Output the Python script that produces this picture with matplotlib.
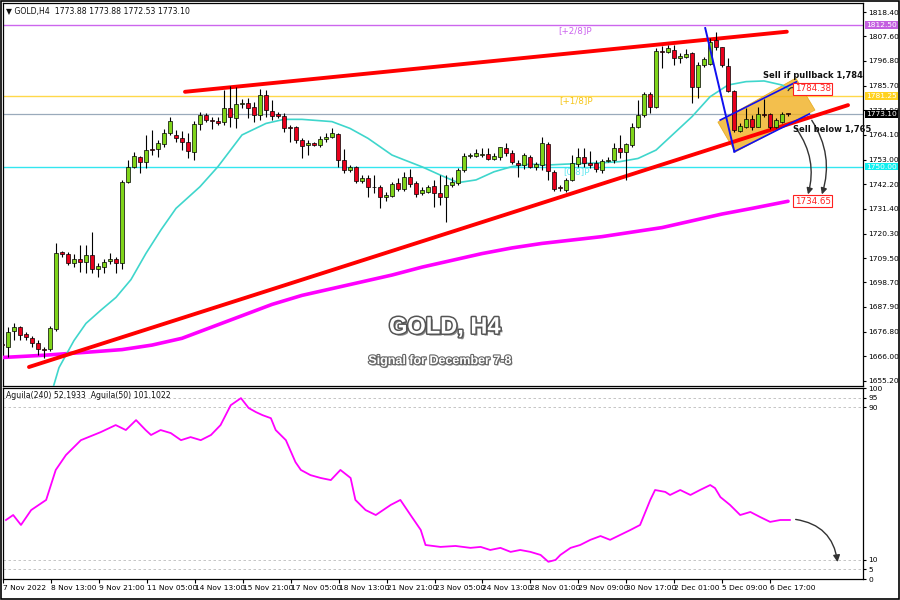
import matplotlib
matplotlib.use("Agg")
import matplotlib.pyplot as plt
import matplotlib.patheffects as pe
from matplotlib.patches import FancyArrowPatch, Polygon, Rectangle
from matplotlib.transforms import blended_transform_factory

# ---------------- data ----------------
opens = [1671.5, 1670.0, 1677.4, 1678.8, 1675.9, 1674.0, 1672.1, 1669.4, 1669.1, 1678.0,
         1712.2, 1711.2, 1707.2, 1709.1, 1707.9, 1710.7, 1704.5, 1705.4, 1708.1, 1708.9,
         1707.5, 1743.3, 1750.0, 1754.1, 1752.2, 1757.6, 1757.6, 1760.0, 1765.0, 1764.0,
         1762.5, 1761.0, 1756.6, 1768.7, 1772.8, 1770.6, 1770.2, 1769.6, 1776.1, 1771.3,
         1777.5, 1778.0, 1776.5, 1772.8, 1781.7, 1774.7, 1773.2, 1772.6, 1767.6, 1767.4,
         1761.8, 1759.4, 1760.3, 1759.5, 1762.0, 1763.2, 1764.4, 1752.9, 1748.5, 1749.7,
         1743.8, 1744.8, 1741.1, 1740.8, 1736.7, 1737.0, 1742.6, 1739.9, 1745.2, 1742.6,
         1738.1, 1738.6, 1741.4, 1738.4, 1736.7, 1741.9, 1742.6, 1748.5, 1754.7, 1754.7,
         1755.3, 1755.4, 1753.5, 1754.4, 1758.1, 1756.2, 1751.7, 1750.7, 1754.4, 1750.0,
         1750.7, 1760.0, 1747.7, 1740.8, 1739.6, 1744.1, 1751.1, 1754.4, 1751.7, 1751.4,
         1748.5, 1752.3, 1752.9, 1758.1, 1756.6, 1759.5, 1767.4, 1772.8, 1782.1, 1776.2,
         1801.3, 1800.8, 1801.6, 1797.9, 1798.6, 1800.1, 1785.4, 1795.0, 1795.4, 1806.0,
         1802.8, 1794.5, 1783.6, 1765.9, 1767.4, 1770.9, 1767.7, 1773.3, 1773.3, 1767.7,
         1769.9, 1773.88]
highs = [1673.5, 1679.1, 1680.6, 1679.4, 1676.9, 1675.0, 1673.2, 1670.3, 1679.4, 1716.3,
         1712.8, 1712.3, 1711.3, 1715.3, 1715.3, 1721.2, 1707.2, 1708.9, 1711.6, 1710.1,
         1744.0, 1752.9, 1756.6, 1754.7, 1764.0, 1766.2, 1761.8, 1766.5, 1772.1, 1766.2,
         1765.9, 1765.0, 1770.2, 1774.3, 1773.8, 1772.1, 1772.1, 1783.9, 1785.6, 1785.4,
         1779.7, 1780.5, 1778.7, 1784.2, 1783.9, 1779.5, 1774.3, 1773.8, 1768.4, 1767.9,
         1762.5, 1761.8, 1761.0, 1763.5, 1765.0, 1766.9, 1765.0, 1757.6, 1750.7, 1750.3,
         1746.3, 1746.3, 1746.3, 1741.8, 1738.9, 1743.3, 1744.8, 1747.7, 1748.8, 1743.5,
         1741.1, 1741.9, 1744.1, 1746.3, 1746.3, 1745.5, 1749.2, 1755.9, 1756.2, 1757.6,
         1758.1, 1758.1, 1755.9, 1758.8, 1760.3, 1757.3, 1752.9, 1755.9, 1755.1, 1752.2,
         1763.2, 1761.0, 1748.5, 1741.9, 1744.8, 1755.1, 1758.1, 1758.1, 1757.0, 1752.9,
         1753.2, 1754.4, 1760.6, 1764.0, 1760.6, 1769.4, 1779.5, 1783.1, 1783.1, 1802.3,
         1803.4, 1803.8, 1803.8, 1800.1, 1801.9, 1800.8, 1796.4, 1798.3, 1806.7, 1809.7,
         1803.1, 1797.9, 1783.9, 1769.1, 1775.8, 1772.8, 1776.5, 1779.9, 1773.9, 1771.3,
         1774.3, 1773.88]
lows = [1668.5, 1665.9, 1673.2, 1673.2, 1673.2, 1670.3, 1666.6, 1665.1, 1668.5, 1677.4,
        1710.1, 1706.4, 1705.7, 1703.2, 1702.7, 1702.7, 1701.3, 1702.7, 1706.9, 1703.0,
        1704.5, 1742.9, 1749.2, 1747.0, 1749.2, 1755.1, 1754.4, 1758.5, 1764.0, 1761.0,
        1757.3, 1753.6, 1752.9, 1766.2, 1769.9, 1766.5, 1768.4, 1768.4, 1767.6, 1766.9,
        1775.8, 1771.3, 1769.9, 1770.6, 1772.1, 1770.6, 1771.3, 1765.4, 1761.0, 1760.3,
        1753.6, 1755.1, 1759.1, 1758.5, 1761.0, 1762.5, 1750.0, 1747.0, 1747.7, 1742.9,
        1742.9, 1736.4, 1738.1, 1731.5, 1734.9, 1736.7, 1739.3, 1739.3, 1741.1, 1736.5,
        1737.4, 1738.1, 1732.3, 1733.0, 1725.6, 1741.1, 1741.9, 1747.7, 1753.6, 1754.1,
        1754.1, 1752.9, 1752.9, 1752.9, 1754.7, 1751.1, 1745.2, 1748.8, 1749.2, 1748.5,
        1748.5, 1744.1, 1739.3, 1739.3, 1738.9, 1743.8, 1750.0, 1750.0, 1749.2, 1747.7,
        1747.0, 1752.0, 1751.4, 1753.6, 1744.1, 1758.8, 1766.9, 1772.1, 1773.6, 1775.8,
        1793.5, 1800.1, 1795.0, 1795.7, 1797.9, 1778.0, 1780.2, 1794.2, 1795.0, 1801.6,
        1794.2, 1783.1, 1765.4, 1765.4, 1766.9, 1766.2, 1767.4, 1772.1, 1766.5, 1766.9,
        1769.1, 1772.53]
closes = [1671.0, 1676.9, 1679.1, 1675.5, 1674.4, 1672.1, 1669.1, 1668.8, 1678.4, 1711.9,
          1711.3, 1707.5, 1708.9, 1707.8, 1710.7, 1704.5, 1706.2, 1707.9, 1708.9, 1707.5,
          1743.3, 1750.0, 1754.8, 1752.2, 1757.3, 1757.3, 1760.3, 1765.0, 1770.2, 1762.5,
          1761.0, 1757.0, 1768.7, 1772.8, 1770.6, 1770.3, 1769.4, 1776.1, 1771.8, 1777.7,
          1778.3, 1776.1, 1772.8, 1781.7, 1775.0, 1772.6, 1772.6, 1766.9, 1767.2, 1761.8,
          1759.1, 1760.3, 1759.4, 1762.0, 1763.2, 1764.7, 1752.9, 1748.5, 1750.0, 1743.8,
          1744.8, 1740.8, 1740.8, 1736.4, 1737.3, 1742.3, 1739.9, 1745.2, 1742.3, 1737.9,
          1739.6, 1741.1, 1738.1, 1736.7, 1741.9, 1743.3, 1748.5, 1754.7, 1755.1, 1755.9,
          1755.6, 1753.2, 1754.7, 1758.5, 1756.2, 1752.2, 1750.7, 1755.1, 1750.0, 1751.1,
          1760.3, 1748.2, 1739.9, 1740.4, 1744.1, 1751.4, 1754.4, 1751.4, 1750.7, 1748.8,
          1752.6, 1752.9, 1758.1, 1756.6, 1760.0, 1767.7, 1772.8, 1782.1, 1776.2, 1801.3,
          1800.7, 1802.3, 1797.9, 1798.9, 1799.8, 1785.4, 1795.0, 1797.5, 1805.3, 1802.8,
          1795.0, 1783.6, 1766.2, 1768.0, 1770.9, 1767.4, 1773.3, 1772.8, 1767.4, 1770.6,
          1773.3, 1773.10]

# moving averages
cyan_bars = [8.5, 9.5, 12, 14, 16.5, 19, 21.5, 24, 26.5, 29, 33, 36, 40, 44, 47,
             50, 55, 58, 61, 65, 67, 70, 73, 76, 79, 82, 85, 88, 91, 94,
             97, 100, 103, 106, 109, 112, 115, 118, 121, 124, 127, 130, 131]
cyan_vals = [1652, 1661, 1673, 1680.6, 1686.5, 1692.1, 1700, 1711.6, 1722, 1731.5,
             1741.1, 1750.0, 1764.0, 1769.1, 1770.9, 1770.9, 1769.9, 1766.9, 1762.5, 1755.1,
             1753.0, 1749.9, 1746.3, 1742.9, 1744.1, 1747.7, 1750.0, 1751.1, 1750.7, 1751.1,
             1751.4, 1751.7, 1752.2, 1753.6, 1757.3, 1764.7, 1772.1, 1780.9, 1786.1, 1787.6,
             1787.9, 1786.1, 1784.6]
mag_bars = [0, 7, 15, 20, 25, 30, 35, 40, 45, 50, 55, 60, 65, 70, 75, 80, 85, 90, 95,
            100, 105, 110, 115, 120, 125, 131]
mag_vals = [1665.5, 1666.5, 1668, 1669, 1671, 1674, 1679, 1684, 1689, 1693, 1696, 1699,
            1702, 1705.5, 1708.5, 1711.5, 1714, 1716, 1717.5, 1719, 1721, 1723, 1726,
            1729, 1731.5, 1734.65]

# analyst drawings (bar index, price)
upper_tl_bars, upper_tl_px = [30.5, 130.8], [1783.1, 1809.7]
lower_tl_bars, lower_tl_px = [4.5, 141.0], [1661.3, 1777.2]
blue_drop_bars, blue_drop_px = [117.2, 122.05], [1811.3, 1756.6]
chan_up_bars, chan_up_px = [119.7, 132.4], [1770.6, 1787.5]
chan_lo_bars, chan_lo_px = [122.05, 134.55], [1756.6, 1773.3]
box_bars = [119.3, 132.3, 135.5, 122.2]
box_px = [1769.7, 1789.2, 1775.0, 1756.4]

# Murrey levels / price labels
lvl_28, lvl_18, lvl_08, last_px = 1812.50, 1781.25, 1750.00, 1773.10
target_hi, target_lo = 1784.38, 1734.65

price_ticks = [1818.40, 1807.60, 1796.80, 1785.70, 1774.90, 1764.10, 1753.00, 1742.20,
               1731.40, 1720.30, 1709.50, 1698.70, 1687.90, 1676.80, 1666.00, 1655.20]

x_tick_bars = list(range(0, 129, 8))
x_tick_labels = ["7 Nov 2022", "8 Nov 13:00", "9 Nov 21:00", "11 Nov 05:00", "14 Nov 13:00",
                 "15 Nov 21:00", "17 Nov 05:00", "18 Nov 13:00", "21 Nov 21:00", "23 Nov 05:00",
                 "24 Nov 13:00", "28 Nov 01:00", "29 Nov 09:00", "30 Nov 17:00", "2 Dec 01:00",
                 "5 Dec 09:00", "6 Dec 17:00"]

# Aguila indicator
ind_bars = [0.5, 1.7, 3.0, 4.7, 7.2, 8.8, 10.5, 13.0, 16.3, 18.8, 20.5, 22.2, 23.8, 24.7, 26.3,
            28.0, 29.7, 31.3, 33.0, 34.7, 36.3, 38.0, 39.7, 41.0, 42.2, 43.3, 44.7, 45.5, 47.2,
            48.8, 49.7, 51.3, 53.0, 54.7, 56.3, 58.0, 58.8, 60.5, 62.2, 64.7, 66.3, 68.0, 69.7,
            70.5, 73.0, 75.5, 78.0, 79.7, 81.3, 83.0, 84.7, 86.3, 88.0, 89.7, 91.0, 92.2, 93.0,
            94.7, 96.3, 98.0, 99.7, 101.3, 103.0, 104.7, 106.3, 108.0, 108.8, 110.5, 111.3,
            113.0, 114.7, 116.3, 118.0, 118.8, 119.7, 121.3, 123.0, 124.7, 126.3, 128.0,
            129.7, 131.3]
ind_vals = [30.9, 33.5, 28.3, 36.1, 41.4, 57.1, 64.9, 72.7, 76.9, 80.6, 78.0, 83.2, 78.0, 75.4,
            78.0, 76.4, 72.7, 74.3, 72.7, 75.4, 80.6, 91.0, 94.7, 89.5, 87.4, 85.8, 84.2, 78.0,
            72.7, 61.2, 57.1, 54.4, 52.9, 51.8, 57.1, 52.9, 41.4, 36.1, 33.5, 38.8, 41.4, 33.5,
            25.7, 17.8, 16.8, 17.3, 16.3, 16.8, 15.2, 16.3, 14.2, 15.2, 14.2, 12.6, 9.0, 10.0,
            12.6, 16.3, 17.8, 20.5, 22.5, 20.5, 23.1, 25.7, 28.3, 41.4, 46.6, 45.6, 44.0, 46.6,
            44.0, 46.6, 49.2, 47.6, 42.9, 38.8, 33.5, 35.1, 32.5, 29.9, 30.9, 30.9]
ind_ticks = [100, 95, 90, 10, 5, 0]

# ---------------- figure ----------------
plt.rcParams['font.family'] = ['DejaVu Sans']
fig = plt.figure(figsize=(9, 6), dpi=100)
fig.patch.set_facecolor('white')
ax = fig.add_axes([0.00333, 0.3567, 0.9556, 0.6383])
ax2 = fig.add_axes([0.00333, 0.035, 0.9556, 0.3183])

XMIN, XMAX = 0.17, 143.5
ax.set_xlim(XMIN, XMAX)
ax.set_ylim(1652.9, 1822.4)
ax2.set_xlim(XMIN, XMAX)
ax2.set_ylim(0.07, 99.9)

for a in (ax, ax2):
    for s in a.spines.values():
        s.set_color('black')
        s.set_linewidth(0.9)

AX_FS = 5.4

# horizontal levels
ax.axhline(lvl_28, color='#CC66EE', lw=1.0, zorder=1)
ax.axhline(lvl_18, color='#FFD84A', lw=1.0, zorder=1)
ax.axhline(last_px, color='#9AAABB', lw=0.9, zorder=1)
ax.axhline(lvl_08, color='#33E6F0', lw=1.0, zorder=1)
ax.text(95.5, 1810.0, "[+2/8]P", color='#CC66EE', fontsize=6.3, ha='center', va='center')
ax.text(95.7, 1779.0, "[+1/8]P", color='#F5C518', fontsize=6.3, ha='center', va='center')
ax.text(95.7, 1747.6, "[0/8]P", color='#66E8F0', fontsize=6.3, ha='center', va='center')

# orange box
ax.add_patch(Polygon(list(zip(box_bars, box_px)), closed=True, facecolor='#F0B020',
                     edgecolor='#E0A000', alpha=0.8, lw=0.5, zorder=2))

# moving averages
ax.plot(mag_bars, mag_vals, color='#FF00FF', lw=2.6, zorder=3, solid_capstyle='round')
ax.plot(cyan_bars, cyan_vals, color='#3FD6CC', lw=1.2, zorder=3)

# trend lines
ax.plot(upper_tl_bars, upper_tl_px, color='#FF0000', lw=2.8, zorder=4, solid_capstyle='round')
ax.plot(lower_tl_bars, lower_tl_px, color='#FF0000', lw=2.8, zorder=4, solid_capstyle='round')

# candles
xs = list(range(len(closes)))
ax.vlines(xs, lows, highs, color='black', lw=0.8, zorder=5)
for i in xs:
    o, c = opens[i], closes[i]
    bull = c >= o
    h = max(abs(c - o), 0.35)
    ax.bar(i, h, bottom=min(o, c), width=0.6, color='#7FD41A' if bull else '#E8001C',
           edgecolor='black', lw=0.5, zorder=6)

# blue lines
ax.plot(blue_drop_bars, blue_drop_px, color='#1010F0', lw=1.4, zorder=7)
ax.plot(chan_up_bars, chan_up_px, color='#1010F0', lw=1.2, zorder=7)
ax.plot(chan_lo_bars, chan_lo_px, color='#1010F0', lw=1.2, zorder=7)

# curved arrows
for (p0, p1) in [((132.2, 1767.5), (134.2, 1736.5)), ((134.7, 1771.5), (136.5, 1736.5))]:
    ax.add_patch(FancyArrowPatch(p0, p1, connectionstyle='arc3,rad=-0.25', arrowstyle='-|>',
                                 mutation_scale=9, color='#333333', lw=1.0, zorder=8))
ax.add_patch(FancyArrowPatch((130.8, 1782.5), (132.7, 1783.0), connectionstyle='arc3,rad=-0.9',
                             arrowstyle='-', color='#333333', lw=0.9, zorder=8))

# annotations
ax.text(135.2, 1790.3, "Sell if pullback 1,784", fontsize=6.0, fontweight='bold', ha='center',
        va='center', color='#111111', zorder=9)
ax.text(138.4, 1766.2, "Sell below 1,765", fontsize=6.0, fontweight='bold', ha='center',
        va='center', color='#111111', zorder=9)
for v in (target_hi, target_lo):
    ax.text(135.1, v, f"{v:.2f}", fontsize=6.3, ha='center', va='center', color='#FF2020',
            bbox=dict(boxstyle='square,pad=0.15', facecolor='white', edgecolor='#FF2020', lw=0.8),
            zorder=9)

# title texts
fx = [pe.SimplePatchShadow(offset=(1.5, -1.5), shadow_rgbFace='#555555', alpha=0.7),
      pe.Stroke(linewidth=2.2, foreground='#555555'), pe.Normal()]
ax.text(0.514, 0.154, "GOLD, H4", transform=ax.transAxes, fontsize=17, fontweight='bold',
        color='white', ha='center', va='center', path_effects=fx, zorder=10,
        family=['Liberation Sans', 'DejaVu Sans'])
fx2 = [pe.SimplePatchShadow(offset=(1, -1), shadow_rgbFace='#555555', alpha=0.7),
       pe.Stroke(linewidth=1.6, foreground='#666666'), pe.Normal()]
ax.text(0.508, 0.065, "Signal for December 7-8", transform=ax.transAxes, fontsize=9,
        fontweight='bold', color='white', ha='center', va='center', path_effects=fx2, zorder=10,
        family=['Liberation Sans', 'DejaVu Sans'])

# header
ax.text(0.004, 0.99, "\u25BC GOLD,H4  1773.88 1773.88 1772.53 1773.10", transform=ax.transAxes,
        fontsize=5.6, ha='left', va='top', color='#111111')

# right price axis
ax.yaxis.tick_right()
ax.set_yticks(price_ticks)
ax.set_yticklabels([f"{v:.2f}" for v in price_ticks], fontsize=AX_FS)
ax.tick_params(axis='y', direction='out', length=2.5, width=0.8, pad=1.5, colors='black')
ax.set_xticks([])
trans = blended_transform_factory(ax.transAxes, ax.transData)
for v, fc, tc in [(lvl_28, '#C45FE0', 'white'), (lvl_18, '#FFD21F', 'white'),
                  (last_px, 'black', 'white'), (lvl_08, '#10F0F0', 'white')]:
    ax.text(1.0035, v, f"{v:.2f}", transform=trans, fontsize=AX_FS, ha='left', va='center',
            color=tc, bbox=dict(boxstyle='square,pad=0.12', facecolor=fc, edgecolor='none'),
            zorder=10, clip_on=False)

# ---------------- indicator panel ----------------
for g in (95, 90, 10, 5):
    ax2.axhline(g, color='#BBBBBB', lw=0.6, ls=(0, (3, 3)), zorder=1)
ax2.plot(ind_bars, ind_vals, color='#FF00FF', lw=1.3, zorder=3)
ax2.add_patch(FancyArrowPatch((131.8, 31.4), (139.3, 7.4), connectionstyle='arc3,rad=-0.4',
                              arrowstyle='-|>', mutation_scale=10, color='#333333', lw=1.0,
                              zorder=5))
ax2.text(0.004, 0.985, "Aguila(240) 52.1933  Aguila(50) 101.1022", transform=ax2.transAxes,
         fontsize=5.6, ha='left', va='top', color='#111111')
ax2.yaxis.tick_right()
ax2.set_yticks(ind_ticks)
ax2.set_yticklabels([str(t) for t in ind_ticks], fontsize=AX_FS)
ax2.tick_params(axis='y', direction='out', length=2.5, width=0.8, pad=1.5)
ax2.set_xticks(x_tick_bars)
ax2.set_xticklabels(x_tick_labels, fontsize=AX_FS, ha='left')
ax2.tick_params(axis='x', direction='out', length=3, width=0.8, pad=1.5)

# outer frame
fig.patches.append(Rectangle((0.001, 0.001), 0.998, 0.998, transform=fig.transFigure,
                             fill=False, edgecolor='black', lw=1.2))

fig.savefig("out.png", dpi=100)
